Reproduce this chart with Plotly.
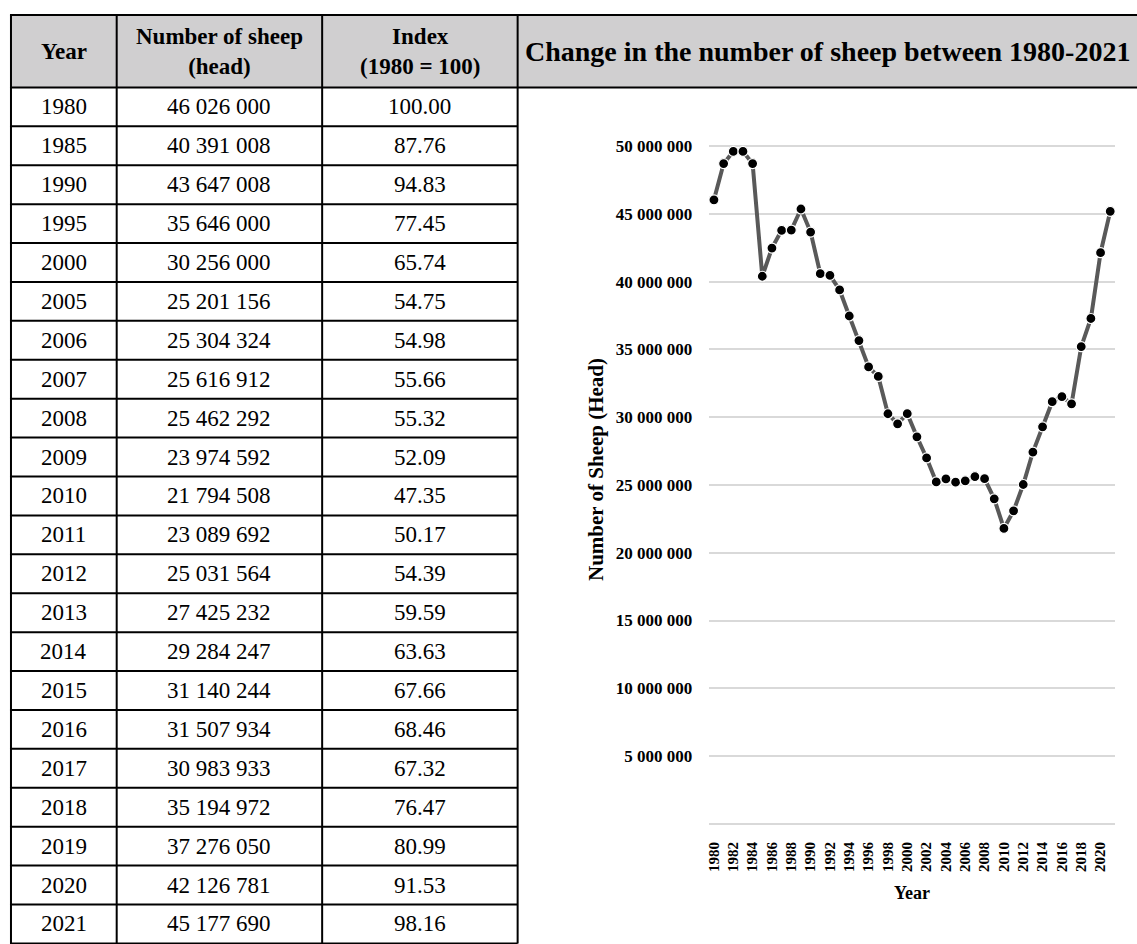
import plotly.graph_objects as go

# ---- table data (census years) ----
table_years = [1980, 1985, 1990, 1995, 2000, 2005, 2006, 2007, 2008, 2009, 2010,
               2011, 2012, 2013, 2014, 2015, 2016, 2017, 2018, 2019, 2020, 2021]
table_heads = [46026000, 40391008, 43647008, 35646000, 30256000, 25201156, 25304324,
               25616912, 25462292, 23974592, 21794508, 23089692, 25031564, 27425232,
               29284247, 31140244, 31507934, 30983933, 35194972, 37276050, 42126781,
               45177690]
table_index = [100.00, 87.76, 94.83, 77.45, 65.74, 54.75, 54.98, 55.66, 55.32, 52.09,
               47.35, 50.17, 54.39, 59.59, 63.63, 67.66, 68.46, 67.32, 76.47, 80.99,
               91.53, 98.16]
header_labels = ["Year", "Number of sheep<br>(head)", "Index<br>(1980 = 100)"]

# ---- remaining annual values shown only on the line chart ----
extra_years = [1981, 1982, 1983, 1984, 1986, 1987, 1988, 1989, 1991, 1992, 1993, 1994,
               1996, 1997, 1998, 1999, 2001, 2002, 2003, 2004]
extra_heads = [48700000, 49600000, 49600000, 48700000, 42470000, 43780000, 43800000,
               45350000, 40580000, 40460000, 39380000, 37460000, 33700000, 33000000,
               30250000, 29510000, 28550000, 26990000, 25220000, 25440000]

chart_title = "Change in the number of sheep between 1980-2021"
y_ticks = [0, 5000000, 10000000, 15000000, 20000000, 25000000, 30000000, 35000000,
           40000000, 45000000, 50000000]
x_ticks = list(range(1980, 2021, 2))

series = sorted(zip(table_years + extra_years, table_heads + extra_heads))
years = [y for y, _ in series]
sheep = [v for _, v in series]

W, H = 1137, 944
SERIF = "Liberation Serif"


def px(x):
    return x / W


def py(y):
    return 1 - y / H


def spaced(n):
    return f"{n:,}".replace(",", " ")


y_text = [spaced(v) if v else "" for v in y_ticks]

fig = go.Figure()

fig.add_trace(go.Scatter(
    x=years, y=sheep, mode="lines+markers",
    line=dict(color="#595959", width=4),
    marker=dict(color="black", size=10, line=dict(color="white", width=1.2)),
    hoverinfo="x+y", showlegend=False,
))

# ---- table geometry (pixels) ----
col_edges = [8, 114, 320, 516]
top, head_bottom, row_h = 8, 81, 39.2
row_edges = [head_bottom + i * row_h for i in range(len(table_years) + 1)]

shapes = []
# grey header band and chart title band
shapes.append(dict(type="rect", xref="paper", yref="paper",
                   x0=px(col_edges[0]), x1=1.0, y0=py(top), y1=py(head_bottom),
                   fillcolor="#d0cfd0", line=dict(width=0), layer="below"))
# horizontal rules
for y in [top] + row_edges:
    x_end = 1.0 if y in (top, head_bottom) else px(col_edges[-1])
    shapes.append(dict(type="line", xref="paper", yref="paper",
                       x0=px(col_edges[0] - 1), x1=x_end, y0=py(y), y1=py(y),
                       line=dict(color="black", width=2)))
# vertical rules
for x in col_edges:
    shapes.append(dict(type="line", xref="paper", yref="paper",
                       x0=px(x), x1=px(x), y0=py(top), y1=py(row_edges[-1]),
                       line=dict(color="black", width=2)))

annotations = []
col_centers = [(col_edges[i] + col_edges[i + 1]) / 2 for i in range(3)]
for c, lab in zip(col_centers, header_labels):
    annotations.append(dict(x=px(c), y=py((top + head_bottom) / 2), xref="paper", yref="paper",
                            text=f"<b>{lab}</b>", showarrow=False,
                            font=dict(family=SERIF, size=23, color="black"),
                            xanchor="center", yanchor="middle"))
for i, (yr, hd, ix) in enumerate(zip(table_years, table_heads, table_index)):
    yc = py(row_edges[i] + row_h / 2)
    for c, txt in zip(col_centers, [str(yr), spaced(hd), f"{ix:.2f}"]):
        annotations.append(dict(x=px(c), y=yc, xref="paper", yref="paper", text=txt,
                                showarrow=False, font=dict(family=SERIF, size=23, color="black"),
                                xanchor="center", yanchor="middle"))

# chart title inside the grey band
annotations.append(dict(x=px(col_edges[-1] + 5), y=py((top + head_bottom) / 2),
                        xref="paper", yref="paper",
                        text=f"<b>{chart_title}</b>", showarrow=False,
                        font=dict(family=SERIF, size=28, color="black"),
                        xanchor="left", yanchor="middle"))

# plot area in pixels
plot_l, plot_r = 708, 1115
zero_px, top_px = 823, 140
pad = 0.15e6
unit = (zero_px - top_px) / 50e6
y0_px = zero_px + pad * unit
y1_px = top_px - pad * unit

annotations.append(dict(x=px(594), y=py(466), xref="paper", yref="paper",
                        text="<b>Number of Sheep (Head)</b>", textangle=-90, showarrow=False,
                        font=dict(family=SERIF, size=21, color="black"),
                        xanchor="center", yanchor="middle"))
annotations.append(dict(x=px((plot_l + plot_r) / 2), y=py(893), xref="paper", yref="paper",
                        text="<b>Year</b>", showarrow=False,
                        font=dict(family=SERIF, size=18, color="black"),
                        xanchor="center", yanchor="middle"))

fig.update_layout(
    width=W, height=H,
    margin=dict(l=0, r=0, t=0, b=0),
    paper_bgcolor="white", plot_bgcolor="white",
    font=dict(family=SERIF, color="black"),
    shapes=shapes, annotations=annotations,
    xaxis=dict(domain=[px(plot_l), px(plot_r)], range=[1979.5, 2021.5],
               tickmode="array", tickvals=x_ticks, ticktext=[str(t) for t in x_ticks],
               tickangle=-90, showgrid=False, zeroline=False, showline=False,
               ticks="", ticklabelstandoff=12,
               tickfont=dict(family=SERIF, size=15, color="black", weight="bold")),
    yaxis=dict(domain=[py(y0_px), py(y1_px)], range=[-pad, 50e6 + pad],
               tickmode="array", tickvals=y_ticks, ticktext=y_text,
               showgrid=True, gridcolor="#d9d9d9", gridwidth=1.5,
               zeroline=False, showline=False, ticks="", ticklabelstandoff=16,
               tickfont=dict(family=SERIF, size=17, color="black", weight="bold")),
)

fig.write_html("out.html")
